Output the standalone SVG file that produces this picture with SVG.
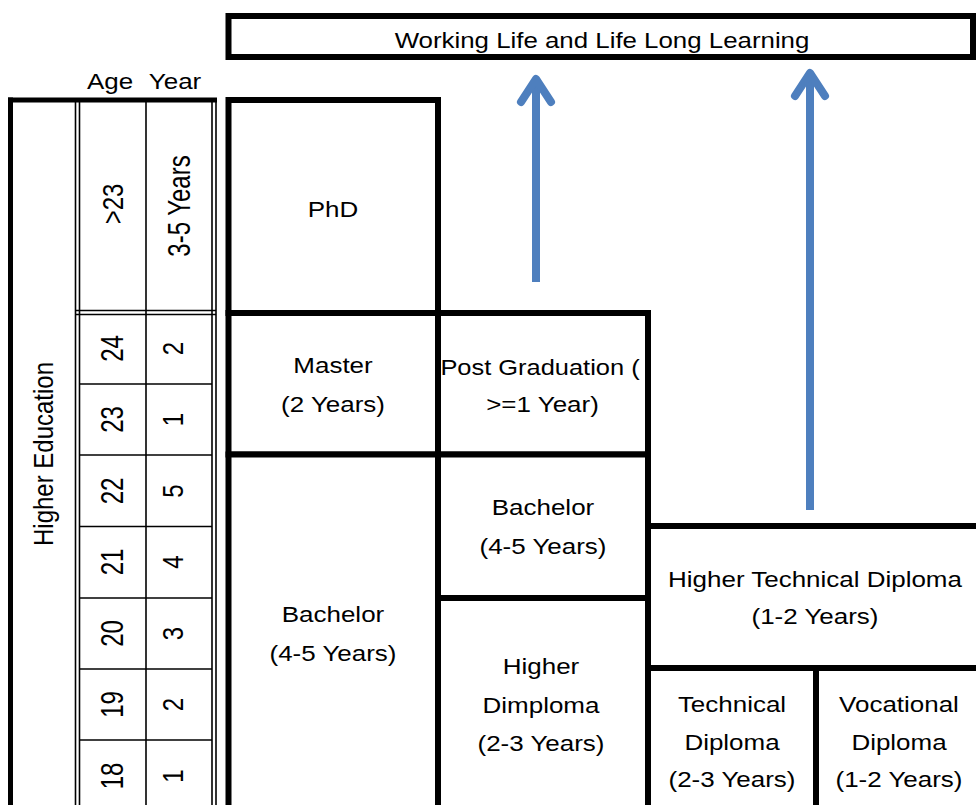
<svg xmlns="http://www.w3.org/2000/svg" width="976" height="805" viewBox="0 0 976 805">
<style>
.t{font-family:"Liberation Sans",Arial,sans-serif;font-size:22.3px;fill:#000;text-anchor:middle}
.r{font-family:"Liberation Sans",Arial,sans-serif;font-size:24px;fill:#000;text-anchor:middle}
.box{fill:#fff;stroke:#000;stroke-width:6}
.thick{stroke:#000;stroke-width:5;fill:none}
.thin{stroke:#000;stroke-width:1.6;fill:none}
.arr{stroke:#4E7FBE;stroke-width:8;fill:none;stroke-linejoin:round}
</style>
<rect width="976" height="805" fill="#fff"/>

<g id="age-table">
  <line class="thick" x1="10.5" y1="97.5" x2="10.5" y2="810"/>
  <line class="thick" x1="8" y1="100" x2="217" y2="100"/>
  <line class="thin" x1="75.5" y1="100" x2="75.5" y2="810"/>
  <line class="thin" x1="79.5" y1="100" x2="79.5" y2="810"/>
  <line class="thin" x1="212" y1="100" x2="212" y2="810"/>
  <line class="thin" x1="216" y1="100" x2="216" y2="810"/>
  <line class="thin" x1="146" y1="100" x2="146" y2="810"/>
  <line class="thin" x1="75.5" y1="310.5" x2="216" y2="310.5"/>
  <line class="thin" x1="75.5" y1="314.5" x2="216" y2="314.5"/>
  <line class="thin" x1="79.5" y1="384" x2="212" y2="384"/>
  <line class="thin" x1="79.5" y1="455" x2="212" y2="455"/>
  <line class="thin" x1="79.5" y1="526.5" x2="212" y2="526.5"/>
  <line class="thin" x1="79.5" y1="598" x2="212" y2="598"/>
  <line class="thin" x1="79.5" y1="669" x2="212" y2="669"/>
  <line class="thin" x1="79.5" y1="740" x2="212" y2="740"/>
  <text class="t" transform="translate(110,89.3) scale(1.165,1)">Age</text>
  <text class="t" transform="translate(175,89.3) scale(1.165,1)">Year</text>
  <text class="r" transform="translate(53,454) scale(1.17,1) rotate(-90)">Higher Education</text>
  <text class="r" transform="translate(123,204) scale(1.2,1) rotate(-90)">&gt;23</text>
  <text class="r" transform="translate(190,206) scale(1.28,1) rotate(-90)">3-5 Years</text>
  <g class="ages">
    <text class="r" transform="translate(123,348.5) scale(1.28,1) rotate(-90)">24</text>
    <text class="r" transform="translate(123,419.5) scale(1.28,1) rotate(-90)">23</text>
    <text class="r" transform="translate(123,491) scale(1.28,1) rotate(-90)">22</text>
    <text class="r" transform="translate(123,562) scale(1.28,1) rotate(-90)">21</text>
    <text class="r" transform="translate(123,633.5) scale(1.28,1) rotate(-90)">20</text>
    <text class="r" transform="translate(123,704.5) scale(1.28,1) rotate(-90)">19</text>
    <text class="r" transform="translate(123,776) scale(1.28,1) rotate(-90)">18</text>
  </g>
  <g class="years">
    <text class="r" transform="translate(183,348.5) scale(1.22,1) rotate(-90)">2</text>
    <text class="r" transform="translate(183,419.5) scale(1.22,1) rotate(-90)">1</text>
    <text class="r" transform="translate(183,491) scale(1.22,1) rotate(-90)">5</text>
    <text class="r" transform="translate(183,562) scale(1.22,1) rotate(-90)">4</text>
    <text class="r" transform="translate(183,633.5) scale(1.22,1) rotate(-90)">3</text>
    <text class="r" transform="translate(183,704.5) scale(1.22,1) rotate(-90)">2</text>
    <text class="r" transform="translate(183,776) scale(1.22,1) rotate(-90)">1</text>
  </g>
</g>

<g id="working-life">
  <rect class="box" x="228.5" y="16" width="744.5" height="41"/>
  <text class="t" transform="translate(602,48.3) scale(1.16,1)">Working Life and Life Long Learning</text>
</g>

<g id="phd">
  <rect class="box" x="228.5" y="100" width="209.5" height="213"/>
  <text class="t" transform="translate(333,217) scale(1.165,1)">PhD</text>
</g>

<g id="master">
  <rect class="box" x="228.5" y="313" width="209.5" height="141.5"/>
  <text class="t" transform="translate(333,373) scale(1.165,1)">Master</text>
  <text class="t" transform="translate(333,411.5) scale(1.165,1)">(2 Years)</text>
</g>

<g id="post-graduation">
  <rect class="box" x="438" y="313" width="210" height="141.5"/>
  <text class="t" transform="translate(540,374.5) scale(1.14,1)">Post Graduation (</text>
  <text class="t" transform="translate(542.5,411.5) scale(1.165,1)">&gt;=1 Year)</text>
</g>

<g id="bachelor-university">
  <rect class="box" x="228.5" y="454.5" width="209.5" height="380"/>
  <text class="t" transform="translate(333,622) scale(1.165,1)">Bachelor</text>
  <text class="t" transform="translate(333,661) scale(1.165,1)">(4-5 Years)</text>
</g>

<g id="bachelor-polytechnic">
  <rect class="box" x="438" y="454.5" width="210" height="143.5"/>
  <text class="t" transform="translate(543,515) scale(1.165,1)">Bachelor</text>
  <text class="t" transform="translate(543,554) scale(1.165,1)">(4-5 Years)</text>
</g>

<g id="higher-diploma">
  <rect class="box" x="438" y="598" width="210" height="240"/>
  <text class="t" transform="translate(541,674) scale(1.165,1)">Higher</text>
  <text class="t" transform="translate(541,713) scale(1.165,1)">Dimploma</text>
  <text class="t" transform="translate(541,751) scale(1.165,1)">(2-3 Years)</text>
</g>

<g id="higher-technical-diploma">
  <rect class="box" x="648" y="526" width="360" height="142"/>
  <text class="t" transform="translate(815,587.3) scale(1.165,1)">Higher Technical Diploma</text>
  <text class="t" transform="translate(815,624) scale(1.165,1)">(1-2 Years)</text>
</g>

<g id="technical-diploma">
  <rect class="box" x="648" y="668" width="168" height="170"/>
  <text class="t" transform="translate(732,711.7) scale(1.165,1)">Technical</text>
  <text class="t" transform="translate(732,750) scale(1.165,1)">Diploma</text>
  <text class="t" transform="translate(732,786.7) scale(1.165,1)">(2-3 Years)</text>
</g>

<g id="vocational-diploma">
  <rect class="box" x="816" y="668" width="200" height="170"/>
  <text class="t" transform="translate(899,711.7) scale(1.165,1)">Vocational</text>
  <text class="t" transform="translate(899,750) scale(1.165,1)">Diploma</text>
  <text class="t" transform="translate(899,786.7) scale(1.165,1)">(1-2 Years)</text>
</g>

<g id="connectors">
  <line class="arr" x1="536" y1="282" x2="536" y2="82"/>
  <path class="arr" stroke-linecap="round" d="M521,102 L536,79 L551,102"/>
  <line class="arr" x1="810" y1="510" x2="810" y2="76"/>
  <path class="arr" stroke-linecap="round" d="M795,96 L810,73 L825,96"/>
</g>
</svg>
